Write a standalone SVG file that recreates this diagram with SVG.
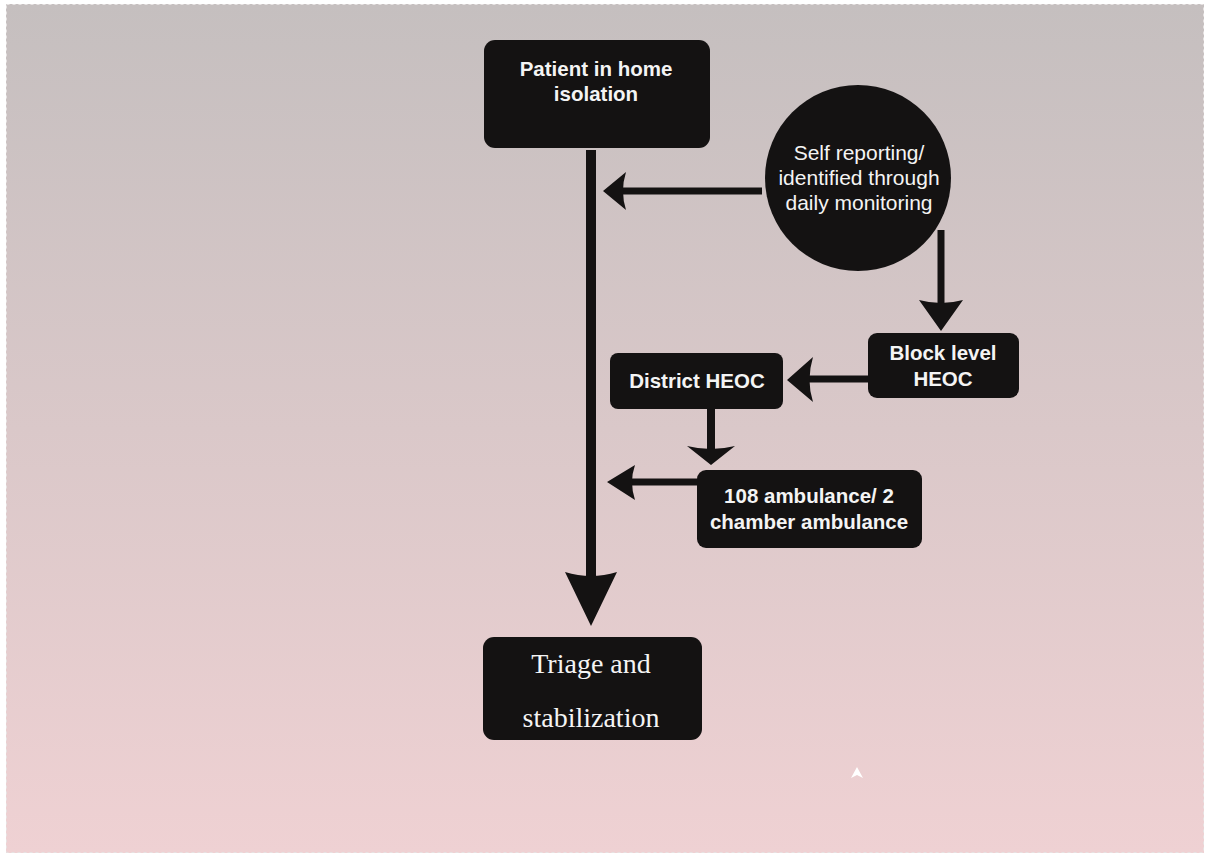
<svg xmlns="http://www.w3.org/2000/svg" width="1209" height="854" viewBox="0 0 1209 854">
<defs>
<linearGradient id="bg" x1="0" y1="0" x2="0" y2="1">
<stop offset="0" stop-color="#c5bfbf"/>
<stop offset="1" stop-color="#efd1d3"/>
</linearGradient>
<style>
.box{fill:#141212;}
.ln{stroke:#141212;fill:none;}
.hd{fill:#141212;}
.t{font-family:"Liberation Sans",Arial,sans-serif;font-size:20.5px;font-weight:bold;fill:#f4f4f4;text-anchor:middle;}
.tc{font-family:"Liberation Sans",Arial,sans-serif;font-size:21px;fill:#f4f4f4;text-anchor:middle;}
.ts{font-family:"Liberation Serif","Times New Roman",serif;font-size:28px;fill:#f4f4f4;text-anchor:middle;}
</style>
</defs>
<rect x="0" y="0" width="1209" height="854" fill="#ffffff"/>
<rect x="6" y="4" width="1198" height="849" fill="url(#bg)"/>
<rect x="6.5" y="4.5" width="1197" height="848" fill="none" stroke="#e6e2e2" stroke-dasharray="3 3"/>

<g id="connectors">
<g id="c-main">
<line class="ln" x1="591" y1="150" x2="591" y2="580" stroke-width="10"/>
<path class="hd" d="M565,572 Q591,580 617,572 L591,626 Z"/>
</g>
<g id="c-circle-main">
<line class="ln" x1="762" y1="191" x2="618" y2="191" stroke-width="7"/>
<path class="hd" d="M603,191 L626,172 Q620,191 626,210 Z"/>
</g>
<g id="c-circle-block">
<line class="ln" x1="941" y1="230" x2="941" y2="305" stroke-width="7"/>
<path class="hd" d="M919,300 Q941,306 963,300 L941,331 Z"/>
</g>
<g id="c-block-district">
<line class="ln" x1="868" y1="379" x2="805" y2="379" stroke-width="7"/>
<path class="hd" d="M787,380 L813,357 Q806,380 813,402 Z"/>
</g>
<g id="c-district-amb">
<line class="ln" x1="711" y1="409" x2="711" y2="452" stroke-width="8"/>
<path class="hd" d="M687,446 Q711,452 735,446 L711,465 Z"/>
</g>
<g id="c-amb-main">
<line class="ln" x1="697" y1="482" x2="625" y2="482" stroke-width="7"/>
<path class="hd" d="M607,482 L635,465 Q629,482 635,500 Z"/>
</g>
</g>

<g id="n-patient">
<rect class="box" x="484" y="40" width="226" height="108" rx="11"/>
<text class="t" x="596" y="76">Patient in home</text>
<text class="t" x="596" y="101">isolation</text>
</g>
<g id="n-self">
<circle class="box" cx="858" cy="178" r="93"/>
<text class="tc" x="859" y="160">Self reporting/</text>
<text class="tc" x="859" y="185">identified through</text>
<text class="tc" x="859" y="210">daily monitoring</text>
</g>
<g id="n-block">
<rect class="box" x="868" y="333" width="151" height="65" rx="9"/>
<text class="t" x="943" y="360">Block level</text>
<text class="t" x="943" y="386">HEOC</text>
</g>
<g id="n-district">
<rect class="box" x="610" y="353" width="173" height="56" rx="8"/>
<text class="t" x="697" y="388">District HEOC</text>
</g>
<g id="n-amb">
<rect class="box" x="697" y="470" width="225" height="78" rx="9"/>
<text class="t" x="809" y="503">108 ambulance/ 2</text>
<text class="t" x="809" y="529">chamber ambulance</text>
</g>
<g id="n-triage">
<rect class="box" x="483" y="637" width="219" height="103" rx="11"/>
<text class="ts" x="591" y="673">Triage and</text>
<text class="ts" x="591" y="727">stabilization</text>
</g>
<path d="M851,778 L857,767 L863,778 L857,775 Z" fill="#ffffff"/>
</svg>
